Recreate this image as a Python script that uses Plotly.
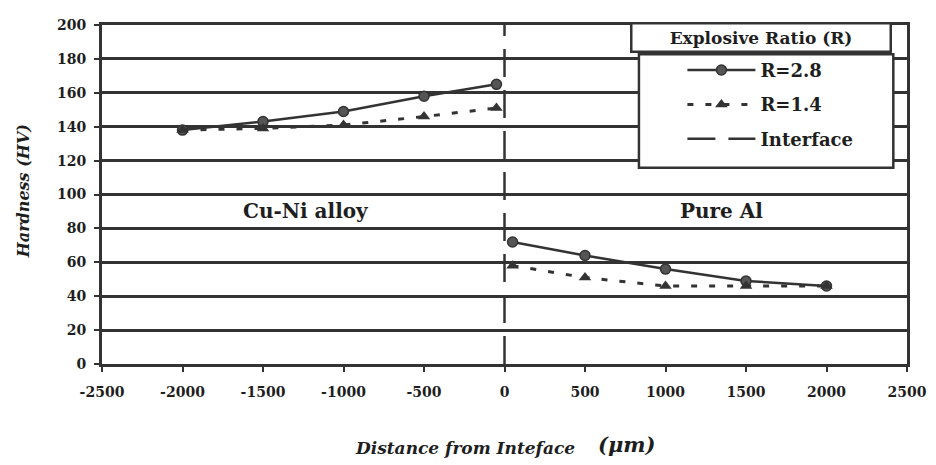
import plotly.graph_objects as go

# Data
x_left = [-2000, -1500, -1000, -500, -50]
x_right = [50, 500, 1000, 1500, 2000]
r28_left = [138, 143, 149, 158, 165]
r28_right = [72, 64, 56, 49, 46]
r14_left = [138, 139, 141, 146, 151]
r14_right = [58, 51, 46, 46, 46]
interface_x = [0, 0]
interface_y = [0, 200]
x_ticks = [-2500, -2000, -1500, -1000, -500, 0, 500, 1000, 1500, 2000, 2500]
y_ticks = list(range(0, 201, 20))

INK = "#333333"
TXT = "#1e1e1e"
FONT = "DejaVu Serif"

fig = go.Figure()
fig.add_trace(go.Scatter(
    x=x_left + [None] + x_right, y=r28_left + [None] + r28_right,
    mode="lines+markers", name="<b>R=2.8</b>", legendgroup="a",
    line=dict(color=INK, width=2.5),
    marker=dict(symbol="circle", size=10, color="#555", line=dict(color=INK, width=1.5)),
))
fig.add_trace(go.Scatter(
    x=x_left + [None] + x_right, y=r14_left + [None] + r14_right,
    mode="lines+markers", name="<b>R=1.4</b>", legendgroup="b",
    line=dict(color=INK, width=3, dash="6px,12px"),
    marker=dict(symbol="triangle-up", size=11, color=INK),
))
fig.add_trace(go.Scatter(
    x=interface_x, y=interface_y, mode="lines", name="<b>Interface</b>", legendgroup="c",
    line=dict(color=INK, width=2.5, dash="28px,13px"),
))

fig.add_annotation(x=-1235, y=90, text="<b>Cu-Ni alloy</b>", showarrow=False,
                   xanchor="center", yanchor="middle",
                   font=dict(family=FONT, size=20, color=TXT))
fig.add_annotation(x=1346, y=90, text="<b>Pure Al</b>", showarrow=False,
                   xanchor="center", yanchor="middle",
                   font=dict(family=FONT, size=20, color=TXT))

# Legend box
fig.add_shape(type="rect", xref="paper", yref="paper",
              x0=0.667, x1=0.983, y0=0.579, y1=0.9135,
              line=dict(color=INK, width=2.5), fillcolor="white", layer="above")
# Legend title box
fig.add_annotation(xref="paper", yref="paper", x=0.8185, y=0.9625,
                   xanchor="center", yanchor="middle",
                   text="<b>Explosive Ratio (R)</b>", showarrow=False,
                   width=255, height=24, bordercolor=INK, borderwidth=2.5,
                   bgcolor="white", borderpad=1,
                   font=dict(family=FONT, size=17, color=TXT))

# Axis titles
fig.add_annotation(xref="paper", yref="paper", x=-0.0975, y=0.508,
                   xanchor="center", yanchor="middle",
                   text="<b><i>Hardness (HV)</i></b>", textangle=-90, showarrow=False,
                   font=dict(family=FONT, size=16, color=TXT))
fig.add_annotation(xref="paper", yref="paper", x=0.4506, y=-0.248,
                   xanchor="center", yanchor="middle",
                   text="<b><i>Distance from Inteface</i></b>", showarrow=False,
                   font=dict(family=FONT, size=17, color=TXT))
fig.add_annotation(xref="paper", yref="paper", x=0.6519, y=-0.236,
                   xanchor="center", yanchor="middle",
                   text="<b><i>(μm)</i></b>", showarrow=False,
                   font=dict(family=FONT, size=21, color=TXT))

fig.update_layout(
    width=928, height=457,
    margin=dict(l=94, r=24, t=9, b=101),
    paper_bgcolor="white", plot_bgcolor="white",
    font=dict(family=FONT, color=TXT),
    showlegend=True,
    legend=dict(x=0.721, y=0.921, xanchor="left", yanchor="top",
                borderwidth=0, bgcolor="rgba(0,0,0,0)",
                font=dict(family=FONT, size=18, color=TXT),
                itemwidth=68, tracegroupgap=8, traceorder="grouped"),
    xaxis=dict(range=[-2500, 2500], tickvals=x_ticks,
               ticktext=[f"<b>{v}</b>" for v in x_ticks],
               tickfont=dict(family=FONT, size=14, color=TXT),
               showgrid=False, zeroline=False,
               showline=True, linecolor=INK, linewidth=3, mirror=True,
               ticks="outside", ticklen=5, tickcolor=INK, tickwidth=1.5,
               ticklabelstandoff=8),
    yaxis=dict(range=[0, 200], tickvals=y_ticks,
               ticktext=[f"<b>{v}</b>" for v in y_ticks],
               tickfont=dict(family=FONT, size=14, color=TXT),
               showgrid=True, gridcolor=INK, gridwidth=3, zeroline=False,
               showline=True, linecolor=INK, linewidth=3, mirror=True,
               ticks="outside", ticklen=5, tickcolor=INK, tickwidth=1.5,
               ticklabelstandoff=5),
)

fig.write_html("out.html")
